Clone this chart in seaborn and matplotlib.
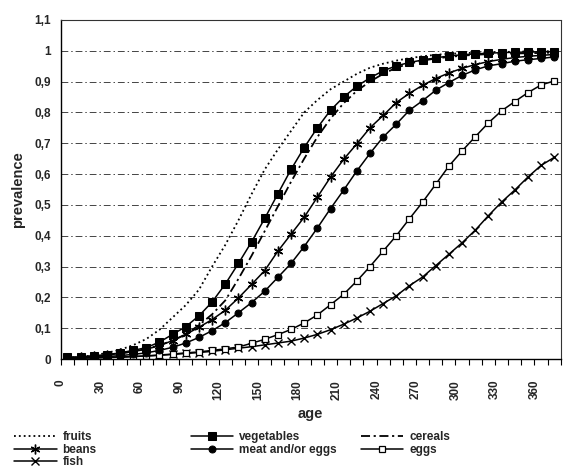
import matplotlib
matplotlib.use('Agg')
import matplotlib.pyplot as plt
import seaborn as sns

# age in days, one point every 10 days
ages = list(range(0, 380, 10))

fruits = [0.004, 0.007, 0.012, 0.02, 0.03, 0.045, 0.065, 0.095, 0.135, 0.175,
          0.225, 0.3, 0.37, 0.45, 0.535, 0.615, 0.68, 0.74, 0.8, 0.84,
          0.875, 0.9, 0.925, 0.945, 0.958, 0.968, 0.976, 0.982, 0.987, 0.99,
          0.992, 0.994, 0.995, 0.996, 0.997, 0.998, 0.998, 0.999]
vegetables = [0.005, 0.007, 0.01, 0.014, 0.02, 0.028, 0.037, 0.055, 0.08, 0.105,
              0.14, 0.185, 0.243, 0.31, 0.38, 0.456, 0.536, 0.615, 0.686, 0.75,
              0.807, 0.85, 0.885, 0.912, 0.935, 0.951, 0.962, 0.97, 0.977, 0.983,
              0.987, 0.99, 0.992, 0.994, 0.995, 0.996, 0.997, 0.997]
cereals = [0.004, 0.006, 0.009, 0.013, 0.018, 0.025, 0.033, 0.045, 0.06, 0.08,
           0.11, 0.145, 0.19, 0.26, 0.335, 0.415, 0.495, 0.575, 0.65, 0.72,
           0.78, 0.83, 0.87, 0.9, 0.925, 0.945, 0.958, 0.968, 0.975, 0.98,
           0.984, 0.987, 0.989, 0.99, 0.991, 0.992, 0.993, 0.994]
beans = [0.004, 0.006, 0.009, 0.013, 0.018, 0.024, 0.032, 0.043, 0.06, 0.08,
         0.103, 0.128, 0.158, 0.198, 0.242, 0.287, 0.35, 0.405, 0.46, 0.525,
         0.59, 0.648, 0.698, 0.75, 0.79, 0.832, 0.862, 0.888, 0.91, 0.928,
         0.943, 0.955, 0.965, 0.972, 0.978, 0.982, 0.985, 0.988]
meat = [0.003, 0.004, 0.006, 0.008, 0.011, 0.015, 0.02, 0.028, 0.038, 0.052,
        0.07, 0.092, 0.118, 0.15, 0.183, 0.22, 0.265, 0.31, 0.365, 0.425,
        0.488, 0.548, 0.61, 0.667, 0.72, 0.762, 0.807, 0.838, 0.872, 0.897,
        0.92, 0.938, 0.951, 0.958, 0.966, 0.971, 0.975, 0.98]
eggs = [0.002, 0.003, 0.004, 0.005, 0.006, 0.008, 0.01, 0.013, 0.016, 0.02,
        0.023, 0.028, 0.033, 0.039, 0.051, 0.064, 0.079, 0.096, 0.117, 0.143,
        0.176, 0.21, 0.253, 0.3, 0.35, 0.4, 0.455, 0.509, 0.567, 0.626,
        0.675, 0.721, 0.766, 0.805, 0.835, 0.864, 0.889, 0.902]
fish = [0.002, 0.003, 0.004, 0.005, 0.006, 0.008, 0.01, 0.012, 0.015, 0.018,
        0.021, 0.025, 0.03, 0.035, 0.04, 0.046, 0.052, 0.058, 0.068, 0.08,
        0.095, 0.113, 0.133, 0.155, 0.18, 0.205, 0.238, 0.266, 0.303, 0.34,
        0.377, 0.418, 0.465, 0.509, 0.548, 0.59, 0.628, 0.654]

age_labels = list(range(0, 361, 30))
y_labels = ['0', '0,1', '0,2', '0,3', '0,4', '0,5', '0,6', '0,7', '0,8', '0,9', '1', '1,1']

sns.set_theme(style='white')
plt.rcParams['font.family'] = ['Liberation Sans', 'DejaVu Sans']
plt.rcParams['font.weight'] = 'bold'

fig = plt.figure(figsize=(5.63, 4.69), dpi=100)
ax = fig.add_axes([0.108, 0.2345, 0.888, 0.723])

lw = 1.1
h = {}
# fruits - dotted, cereals - dash-dot, no markers
sns.lineplot(x=ages, y=fruits, ax=ax, color='black', linewidth=1.3,
             linestyle=(0, (1, 1.7)))
h['fruits'] = ax.lines[-1]
sns.lineplot(x=ages, y=cereals, ax=ax, color='black', linewidth=1.3,
             linestyle=(0, (5, 2, 1.2, 2)))
h['cereals'] = ax.lines[-1]
sns.lineplot(x=ages, y=fish, ax=ax, color='black', linewidth=lw, marker='x',
             markersize=5.5, markeredgewidth=1.0, markeredgecolor='black')
h['fish'] = ax.lines[-1]
sns.lineplot(x=ages, y=eggs, ax=ax, color='black', linewidth=lw, marker='s',
             markersize=5, markerfacecolor='white', markeredgecolor='black',
             markeredgewidth=0.9)
h['eggs'] = ax.lines[-1]
sns.lineplot(x=ages, y=meat, ax=ax, color='black', linewidth=lw, marker='o',
             markersize=5, markerfacecolor='black', markeredgecolor='black')
h['meat and/or eggs'] = ax.lines[-1]
sns.lineplot(x=ages, y=beans, ax=ax, color='black', linewidth=lw, marker=(6, 2, 0),
             markersize=7, markeredgewidth=1.0, markeredgecolor='black')
h['beans'] = ax.lines[-1]
sns.lineplot(x=ages, y=vegetables, ax=ax, color='black', linewidth=lw, marker='s',
             markersize=5.5, markerfacecolor='black', markeredgecolor='black')
h['vegetables'] = ax.lines[-1]

# axes (category style: ticks between the 10-day points)
ax.set_xlim(-5, 375)
ax.set_ylim(0, 1.1)
ax.set_yticks([i / 10 for i in range(12)])
ax.set_yticklabels(y_labels)
ax.set_xticks([a - 5 for a in age_labels])
ax.set_xticklabels([str(a) for a in age_labels], rotation=90)
ax.set_xticks([a - 5 for a in ages if a % 30 != 0] + [375], minor=True)
ax.tick_params(axis='x', which='both', direction='out', length=4, width=0.8,
               color='black', bottom=True, labelsize=8.5, pad=11)
ax.tick_params(axis='y', length=0, labelsize=8.5, pad=7)

ax.yaxis.grid(True, color='#444444', linestyle=(0, (7, 3, 1.5, 3)), linewidth=0.7)
ax.xaxis.grid(False)
ax.set_axisbelow(True)
ax.get_ygridlines()[0].set_visible(False)
ax.get_ygridlines()[-1].set_visible(False)

for side in ['left', 'bottom']:
    ax.spines[side].set_color('black')
    ax.spines[side].set_linewidth(1.0)
for side in ['top', 'right']:
    ax.spines[side].set_color('#333333')
    ax.spines[side].set_linewidth(0.8)
    ax.spines[side].set_linestyle((0, (1, 1)))

ax.set_xlabel('age', fontsize=10.5, fontweight='bold', labelpad=5)
ax.set_ylabel('prevalence', fontsize=10.5, fontweight='bold', labelpad=7)

# legend below the chart, three columns
cols = [(['fruits', 'beans', 'fish'], 0.025),
        (['vegetables', 'meat and/or eggs'], 0.339),
        (['cereals', 'eggs'], 0.641)]
for names, x0 in cols:
    leg = fig.legend([h[n] for n in names], names, loc='upper left',
                     bbox_to_anchor=(x0, 0.08), frameon=False, borderpad=0,
                     borderaxespad=0, handlelength=3.6, handletextpad=0.5,
                     labelspacing=0.02, prop={'size': 8.5, 'weight': 'bold'})

fig.savefig('out.png', dpi=100)
